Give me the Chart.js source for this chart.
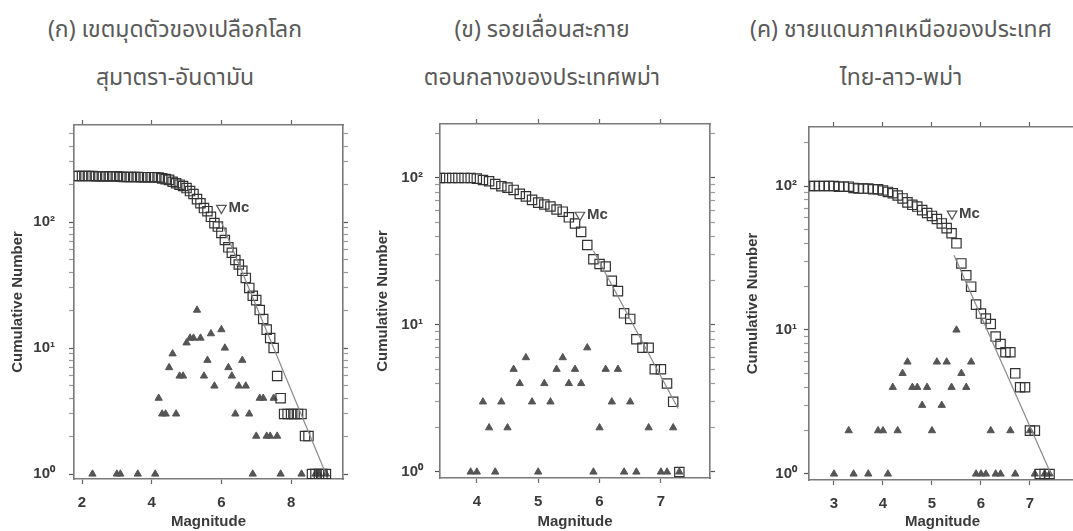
<!DOCTYPE html>
<html>
<head>
<meta charset="utf-8">
<script src="https://cdn.jsdelivr.net/npm/chart.js@4.4.1/dist/chart.umd.min.js"></script>
<style>
    html, body { margin: 0; padding: 0; background: #fff; overflow: hidden; }
    body { width: 1073px; height: 531px; position: relative; }
    canvas { position: absolute; top: 100px; }
    .title {
        position: absolute; top: 6px; width: 360px;
        text-align: center; color: #5a5a5a; white-space: nowrap;
        font-family: "Noto Sans Thai", "Tahoma", "Noto Sans", "DejaVu Sans", sans-serif;
        font-size: 23px; line-height: 48px;
    }
</style>
</head>
<body>
<div class="title" id="titleA" style="left:-5px"></div>
<div class="title" id="titleB" style="left:362px"></div>
<div class="title" id="titleC" style="left:721px"></div>
<canvas id="chartA" width="360" height="431" style="left:0px"></canvas>
<canvas id="chartB" width="360" height="431" style="left:370px"></canvas>
<canvas id="chartC" width="350" height="431" style="left:740px"></canvas>
<script>
// (ก) Sumatra-Andaman subduction zone
const titleA = ['(ก) เขตมุดตัวของเปลือกโลก', 'สุมาตรา-อันดามัน'];
const magA = [1.8, 1.9, 2.0, 2.1, 2.2, 2.3, 2.4, 2.5, 2.6, 2.7, 2.8, 2.9, 3.0, 3.1, 3.2, 3.3, 3.4, 3.5, 3.6, 3.7,
    3.8, 3.9, 4.0, 4.1, 4.2, 4.3, 4.4, 4.5, 4.6, 4.7, 4.8, 4.9, 5.0, 5.1, 5.2, 5.3, 5.4, 5.5, 5.6, 5.7,
    5.8, 5.9, 6.0, 6.1, 6.2, 6.3, 6.4, 6.5, 6.6, 6.7, 6.8, 6.9, 7.0, 7.1, 7.2, 7.3, 7.4, 7.5, 7.6, 7.7,
    7.8, 7.9, 8.0, 8.1, 8.2, 8.3, 8.4, 8.5, 8.6, 8.7, 8.8, 8.9, 9.0];
const cumA = [232, 232, 232, 232, 232, 232, 231, 231, 231, 231, 231, 231, 231, 229, 228, 228, 228, 228, 228, 227,
    227, 227, 227, 227, 226, 222, 219, 216, 209, 203, 198, 193, 186, 176, 167, 152, 141, 129, 122, 110,
    98, 92, 82, 72, 63, 57, 50, 46, 41, 36, 30, 26, 24, 20, 17, 14, 12, 10, 6, 4,
    3, 3, 3, 3, 3, 3, 2, 2, 1, 1, 1, 1, 1];
const triMagA = [2.3, 3.0, 3.1, 3.6, 4.1, 4.2, 4.3, 4.4, 4.5, 4.6, 4.7, 4.8, 4.9, 5.0, 5.1, 5.2, 5.3, 5.4, 5.5, 5.6,
    5.7, 5.8, 6.0, 6.1, 6.2, 6.3, 6.4, 6.5, 6.6, 6.7, 6.8, 6.9, 7.0, 7.1, 7.2, 7.3, 7.4, 7.5, 7.6, 7.7,
    8.3, 8.7, 8.8, 9.0];
const triCountA = [1, 1, 1, 1, 1, 4, 3, 3, 7, 9, 3, 6, 6, 11, 12, 12, 20, 12, 6, 8,
    13, 5, 14, 10, 7, 6, 3, 5, 8, 5, 3, 1, 2, 4, 4, 2, 2, 4, 2, 1,
    1, 1, 1, 1];
const fitMagA = [6.0, 9.0];
const fitCountA = [100, 1];
const mcA = [6.0, 129];
const xTicksA = [2, 4, 6, 8];

// (ข) central Sagaing fault
const titleB = ['(ข) รอยเลื่อนสะกาย', 'ตอนกลางของประเทศพม่า'];
const magB = [3.4, 3.5, 3.6, 3.7, 3.8, 3.9, 4.0, 4.1, 4.2, 4.3, 4.4, 4.5, 4.6, 4.7, 4.8, 4.9, 5.0, 5.1, 5.2, 5.3,
    5.4, 5.5, 5.6, 5.7, 5.8, 5.9, 6.0, 6.1, 6.2, 6.3, 6.4, 6.5, 6.6, 6.7, 6.8, 6.9, 7.0, 7.1, 7.2, 7.3];
const cumB = [100, 100, 100, 100, 100, 100, 99, 97, 95, 91, 88, 86, 83, 78, 75, 71, 68, 66, 64, 61,
    59, 54, 49, 43, 35, 28, 26, 25, 20, 17, 12, 11, 8, 7, 7, 5, 5, 4, 3, 1];
const triMagB = [3.9, 4.0, 4.1, 4.2, 4.3, 4.4, 4.5, 4.6, 4.7, 4.8, 4.9, 5.0, 5.1, 5.2, 5.3, 5.4, 5.5, 5.6, 5.7, 5.8,
    5.9, 6.0, 6.1, 6.2, 6.3, 6.4, 6.5, 6.6, 6.8, 7.0, 7.1, 7.2, 7.3];
const triCountB = [1, 1, 3, 2, 1, 3, 2, 5, 4, 6, 3, 1, 4, 3, 5, 6, 4, 5, 4, 7,
    1, 2, 5, 3, 5, 1, 3, 1, 2, 1, 1, 2, 1];
const fitMagB = [5.9, 7.28];
const fitCountB = [32, 2.7];
const mcB = [5.68, 56];
const xTicksB = [4, 5, 6, 7];

// (ค) northern Thailand-Laos-Myanmar border
const titleC = ['(ค) ชายแดนภาคเหนือของประเทศ', 'ไทย-ลาว-พม่า'];
const magC = [2.5, 2.6, 2.7, 2.8, 2.9, 3.0, 3.1, 3.2, 3.3, 3.4, 3.5, 3.6, 3.7, 3.8, 3.9, 4.0, 4.1, 4.2, 4.3, 4.4,
    4.5, 4.6, 4.7, 4.8, 4.9, 5.0, 5.1, 5.2, 5.3, 5.4, 5.5, 5.6, 5.7, 5.8, 5.9, 6.0, 6.1, 6.2, 6.3, 6.4,
    6.5, 6.6, 6.7, 6.8, 6.9, 7.0, 7.1, 7.2, 7.3, 7.4];
const cumC = [100, 100, 100, 100, 100, 100, 99, 99, 99, 97, 96, 96, 96, 95, 95, 93, 91, 89, 86, 82,
    77, 74, 72, 68, 65, 62, 59, 55, 51, 47, 40, 29, 24, 20, 15, 13, 12, 11, 9, 8,
    7, 7, 5, 4, 4, 2, 2, 1, 1, 1];
const triMagC = [3.0, 3.3, 3.4, 3.7, 3.9, 4.0, 4.1, 4.2, 4.3, 4.4, 4.5, 4.6, 4.7, 4.8, 4.9, 5.0, 5.1, 5.2, 5.3, 5.4,
    5.5, 5.6, 5.7, 5.8, 5.9, 6.0, 6.1, 6.2, 6.3, 6.4, 6.6, 6.7, 7.0, 7.1, 7.3, 7.4];
const triCountC = [1, 2, 1, 1, 2, 2, 1, 4, 2, 5, 6, 4, 4, 3, 4, 2, 6, 3, 6, 4,
    10, 5, 4, 6, 1, 1, 1, 2, 1, 1, 2, 1, 2, 1, 1, 1];
const fitMagC = [5.45, 7.43];
const fitCountC = [33, 1];
const mcC = [5.41, 64];
const xTicksC = [3, 4, 5, 6, 7];

// shared log axis ticks
const yTickValues = [1, 2, 3, 4, 5, 6, 7, 8, 9, 10, 20, 30, 40, 50, 60, 70, 80, 90, 100, 200, 300, 400, 500];
const yTickLabels = { 1: '10⁰', 10: '10¹', 100: '10²' };

const axisFont = { family: '"Liberation Sans", Arial, sans-serif', size: 15, weight: 'bold' };
const inkColor = '#3a3a3a';
const frameColor = '#7a7a7a';

function toPoints(xs, ys) {
    return xs.map((x, i) => ({ x: x, y: ys[i] }));
}

// draws the "Mc" text next to the open triangle marker
const mcLabel = {
    id: 'mcLabel',
    afterDatasetsDraw(chart, args, opts) {
        const px = chart.scales.x.getPixelForValue(opts.mag);
        const py = chart.scales.y.getPixelForValue(opts.count);
        const ctx = chart.ctx;
        ctx.save();
        ctx.font = 'bold 15px "Liberation Sans", Arial, sans-serif';
        ctx.fillStyle = '#444';
        ctx.textBaseline = 'middle';
        ctx.fillText('Mc', px + opts.gap, py);
        ctx.restore();
    }
};

function makeChart(id, p) {
    const canvas = document.getElementById(id);
    const W = canvas.width, H = canvas.height;
    const a = p.area;

    const fitSize = (prop, size) => s => {
        s[prop] = size;
        s.paddingLeft = s.paddingRight = s.paddingTop = s.paddingBottom = 0;
    };
    const xTickBuild = s => { s.ticks = p.xTicks.map(v => ({ value: v })); };
    const yTickBuild = s => {
        s.ticks = yTickValues.filter(v => v >= s.min && v <= s.max)
            .map(v => ({ value: v, major: yTickLabels[v] !== undefined }));
    };
    const grid = {
        drawOnChartArea: false,
        drawTicks: true,
        tickLength: 5,
        tickWidth: 1.2,
        tickColor: '#666'
    };
    const yGrid = Object.assign({}, grid, {
        tickColor: c => (c.tick && c.tick.major) ? '#555' : '#999'
    });
    const border = { display: true, color: frameColor, width: 1.6 };

    new Chart(canvas, {
        type: 'scatter',
        data: {
            datasets: [
                {
                    data: [{ x: p.mc[0], y: p.mc[1] }],
                    pointStyle: 'triangle', rotation: 180, pointRadius: 5.5,
                    backgroundColor: '#fff', borderColor: '#555', borderWidth: 1.2, order: 0
                },
                {
                    data: toPoints(p.fitMag, p.fitCount),
                    showLine: true, pointRadius: 0,
                    borderColor: '#8a8a8a', borderWidth: 1.2, order: 1
                },
                {
                    data: toPoints(p.mag, p.cum),
                    pointStyle: 'rect', pointRadius: 6.6,
                    backgroundColor: 'rgba(255,255,255,0)', borderColor: '#333', borderWidth: 1.2, order: 2
                },
                {
                    data: toPoints(p.triMag, p.triCount),
                    pointStyle: 'triangle', pointRadius: 4.2,
                    backgroundColor: '#555', borderColor: '#555', borderWidth: 1, order: 3
                }
            ]
        },
        options: {
            responsive: false,
            animation: false,
            devicePixelRatio: 1,
            events: [],
            layout: { padding: 0 },
            plugins: {
                legend: { display: false },
                tooltip: { enabled: false },
                mcLabel: { mag: p.mc[0], count: p.mc[1], gap: 7 }
            },
            scales: {
                x: {
                    type: 'linear', position: 'bottom', min: p.xMin, max: p.xMax,
                    afterBuildTicks: xTickBuild,
                    afterFit: fitSize('height', H - a.bottom),
                    grid: grid, border: border,
                    ticks: { font: axisFont, color: inkColor, padding: 10, maxRotation: 0, autoSkip: false },
                    title: { display: true, text: 'Magnitude', font: axisFont, color: inkColor, padding: { top: 0, bottom: 0 } }
                },
                x2: {
                    type: 'linear', axis: 'x', position: 'top', min: p.xMin, max: p.xMax,
                    afterBuildTicks: xTickBuild,
                    afterFit: fitSize('height', a.top),
                    grid: grid, border: border,
                    ticks: { display: false }
                },
                y: {
                    type: 'logarithmic', position: 'left', min: p.yMin, max: p.yMax,
                    afterBuildTicks: yTickBuild,
                    afterFit: fitSize('width', a.left),
                    grid: yGrid, border: border,
                    ticks: {
                        font: axisFont, color: inkColor, padding: p.yPad, autoSkip: false,
                        callback: v => yTickLabels[v] || ''
                    },
                    title: { display: true, text: 'Cumulative Number', font: axisFont, color: inkColor, padding: { top: p.yTitlePad, bottom: 0 } }
                },
                y2: {
                    type: 'logarithmic', axis: 'y', position: 'right', min: p.yMin, max: p.yMax,
                    afterBuildTicks: yTickBuild,
                    afterFit: fitSize('width', W - a.right),
                    grid: yGrid, border: border,
                    ticks: { display: false }
                }
            }
        },
        plugins: [mcLabel]
    });
}

function setTitle(id, lines) {
    document.getElementById(id).innerHTML = lines.join('<br>');
}

document.addEventListener('DOMContentLoaded', () => {
    setTitle('titleA', titleA);
    setTitle('titleB', titleB);
    setTitle('titleC', titleC);

    makeChart('chartA', {
        mag: magA, cum: cumA, triMag: triMagA, triCount: triCountA,
        fitMag: fitMagA, fitCount: fitCountA, mc: mcA, xTicks: xTicksA,
        xMin: 1.77, xMax: 9.49, yMin: 0.913, yMax: 589,
        area: { left: 74, right: 343, top: 25, bottom: 379 },
        yPad: 14, yTitlePad: 9
    });
    makeChart('chartB', {
        mag: magB, cum: cumB, triMag: triMagB, triCount: triCountB,
        fitMag: fitMagB, fitCount: fitCountB, mc: mcB, xTicks: xTicksB,
        xMin: 3.40, xMax: 7.80, yMin: 0.91, yMax: 233,
        area: { left: 70, right: 340, top: 24, bottom: 378 },
        yPad: 12, yTitlePad: 4
    });
    makeChart('chartC', {
        mag: magC, cum: cumC, triMag: triMagC, triCount: triCountC,
        fitMag: fitMagC, fitCount: fitCountC, mc: mcC, xTicks: xTicksC,
        xMin: 2.49, xMax: 7.94, yMin: 0.908, yMax: 257,
        area: { left: 69, right: 336, top: 27, bottom: 380 },
        yPad: 7, yTitlePad: 4
    });
});
</script>
</body>
</html>
